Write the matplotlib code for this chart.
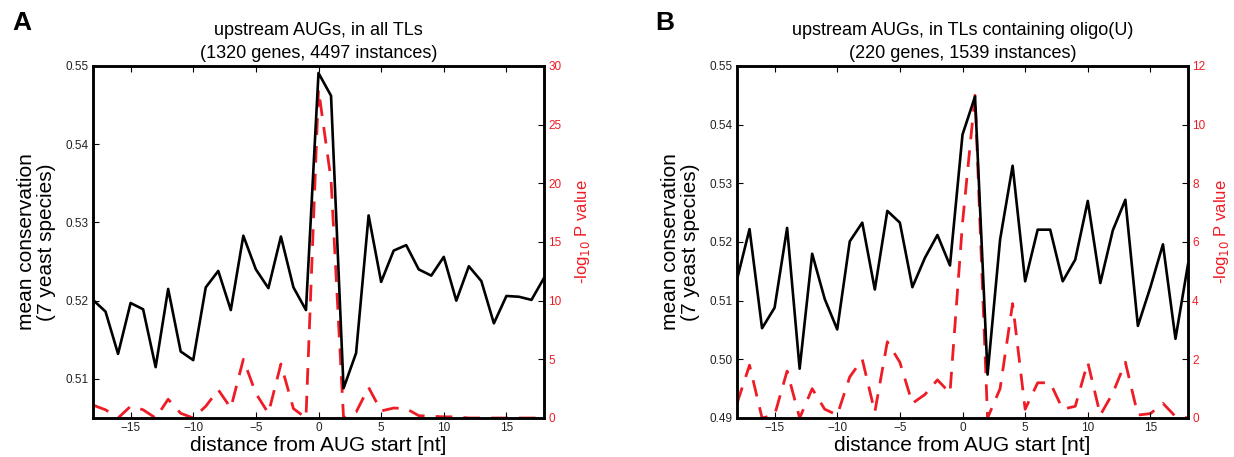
import numpy as np
import matplotlib.pyplot as plt

plt.rcParams["font.family"] = ["Liberation Sans", "DejaVu Sans"]

# distance from AUG start
pos = list(range(-18, 19))

# panel A: all TLs
cons_a = [0.5201, 0.5186, 0.5132, 0.5197, 0.5189, 0.5115, 0.5215, 0.5135, 0.5124,
          0.5217, 0.5238, 0.5188, 0.5283, 0.5240, 0.5216, 0.5282, 0.5217, 0.5188,
          0.5491, 0.5462, 0.5088, 0.5133, 0.5309, 0.5224, 0.5264, 0.5271, 0.5240,
          0.5232, 0.5256, 0.5200, 0.5244, 0.5225, 0.5171, 0.5206, 0.5205, 0.5201,
          0.5229]
pval_a = [1.1, 0.7, 0.0, 1.0, 0.7, 0.0, 1.6, 0.4, 0.0, 1.0, 2.4, 0.85, 5.0, 2.1,
          0.4, 4.6, 0.8, 0.0, 28.0, 20.3, 0.0, 0.5, 2.6, 0.6, 0.85, 0.8, 0.2, 0.15,
          0.1, 0.1, 0.0, 0.0, 0.0, 0.0, 0.0, 0.0, 0.0]

# panel B: TLs containing oligo(U)
cons_b = [0.5136, 0.5222, 0.5053, 0.5088, 0.5224, 0.4984, 0.5180, 0.5103, 0.5051,
          0.5201, 0.5233, 0.5119, 0.5253, 0.5233, 0.5123, 0.5173, 0.5212, 0.5160,
          0.5383, 0.5448, 0.4974, 0.5204, 0.5330, 0.5133, 0.5221, 0.5221, 0.5133,
          0.5170, 0.5270, 0.5130, 0.5220, 0.5272, 0.5057, 0.5123, 0.5196, 0.5035,
          0.5162]
pval_b = [0.5, 1.8, 0.0, 0.1, 1.6, 0.0, 1.0, 0.3, 0.1, 1.4, 2.0, 0.2, 2.6, 1.9,
          0.5, 0.8, 1.3, 0.85, 6.65, 11.0, 0.0, 1.0, 3.9, 0.3, 1.2, 1.2, 0.3, 0.4,
          1.9, 0.1, 0.85, 1.9, 0.1, 0.15, 0.5, 0.05, 0.0]

RED = "#ee1c25"

panels = [
    ("A", "upstream AUGs, in all TLs\n(1320 genes, 4497 instances)",
     cons_a, pval_a, (0.505, 0.55), [0.51, 0.52, 0.53, 0.54, 0.55], (0, 30), range(0, 31, 5)),
    ("B", "upstream AUGs, in TLs containing oligo(U)\n(220 genes, 1539 instances)",
     cons_b, pval_b, (0.49, 0.55), [0.49, 0.50, 0.51, 0.52, 0.53, 0.54, 0.55], (0, 12), range(0, 13, 2)),
]

fig = plt.figure(figsize=(12.34, 4.57), dpi=100)
W, H = 1234, 457
boxes = [(93, 66, 544, 418), (737, 66, 1188, 418)]
letters_x = [12, 655]
rlabel_x = [1.064, 1.053]

for (letter, title, cons, pval, ylim, yticks, ylim2, yticks2), box, lx, rx in zip(
        panels, boxes, letters_x, rlabel_x):
    x0, y0, x1, y1 = box
    ax = fig.add_axes([x0 / W, 1 - y1 / H, (x1 - x0) / W, (y1 - y0) / H])
    ax2 = ax.twinx()

    ax2.plot(pos, pval, color=RED, lw=2.0, dashes=(6, 4))
    ax.plot(pos, cons, color="black", lw=1.9, zorder=3)
    ax.set_zorder(ax2.get_zorder() + 1)
    ax.patch.set_visible(False)

    ax.set_xlim(-18, 18)
    ax.set_ylim(*ylim)
    ax.set_yticks(yticks)
    ax.set_yticklabels([f"{v:.2f}" for v in yticks])
    ax.set_xticks([-15, -10, -5, 0, 5, 10, 15])
    ax.set_xticklabels(["\u221215", "\u221210", "\u22125", "0", "5", "10", "15"])
    ax2.set_ylim(*ylim2)
    ax2.set_yticks(list(yticks2))

    ax.tick_params(axis="both", direction="in", length=4, width=0.8, labelsize=8.5,
                   labelcolor="#222222", top=True, pad=3)
    ax2.tick_params(axis="y", direction="in", length=4, width=0.8, labelsize=8.5,
                    colors=RED, pad=3)
    ax2.tick_params(axis="y", color="black")
    for a in (ax, ax2):
        for s in a.spines.values():
            s.set_linewidth(1.8)

    ax.set_title(title, fontsize=13, pad=6, linespacing=1.4)
    ax.set_xlabel("distance from AUG start [nt]", fontsize=15, labelpad=1)
    ax.set_ylabel("mean conservation\n(7 yeast species)", fontsize=15, labelpad=7,
                  linespacing=1.05)
    ax2.set_ylabel("-log$_{10}$ P value", fontsize=12, color=RED)
    ax2.yaxis.set_label_coords(rx, 0.53)

    fig.text(lx / W, 1 - 23 / H, letter, fontsize=19, fontweight="bold", va="center")

fig.savefig("out.png", dpi=100)
